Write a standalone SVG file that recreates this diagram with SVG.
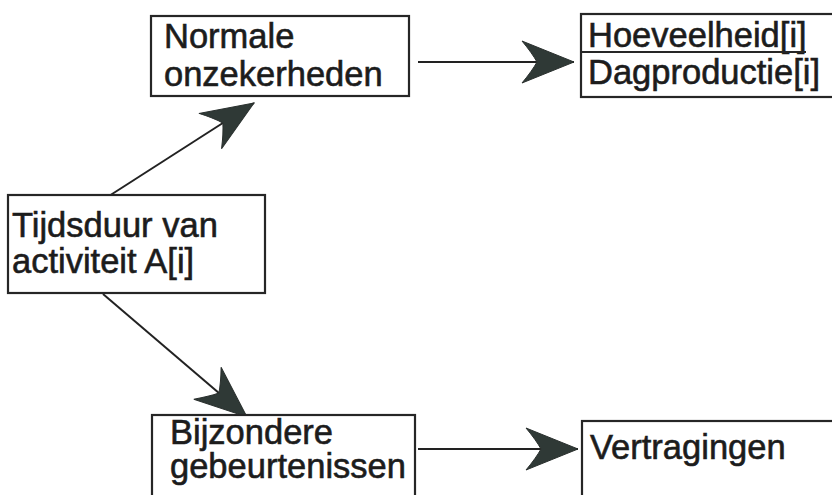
<svg xmlns="http://www.w3.org/2000/svg" width="832" height="495" viewBox="0 0 832 495">
  <style>
    .box { fill: #ffffff; stroke: #262626; stroke-width: 2.2; }
    .lbl { font-family: "Liberation Sans", Arial, sans-serif; font-size: 34.5px; fill: #1c1c1c; stroke: #1c1c1c; stroke-width: 0.6; }
    .edge { fill: none; stroke: #222222; stroke-width: 2; marker-end: url(#head); }
  </style>
  <defs>
    <marker id="head" markerUnits="userSpaceOnUse" viewBox="-56 -24 60 48" markerWidth="60" markerHeight="48" refX="0" refY="0" orient="auto">
      <path d="M0,0 L-52,-21 Q-42,-9 -37,0 Q-42,9 -52,21 Z" fill="#2f3936" stroke="#2a302e" stroke-width="1"/>
    </marker>
  </defs>
  <rect width="832" height="495" fill="#ffffff"/>

  <g id="connectors">
    <line class="edge" x1="109" y1="196" x2="254" y2="103"/>
    <line class="edge" x1="103" y1="294" x2="247" y2="417"/>
    <line class="edge" x1="418" y1="62" x2="574" y2="62"/>
    <line class="edge" x1="418" y1="449" x2="578" y2="449"/>
  </g>

  <g id="normale">
    <rect class="box" x="151" y="16" width="258" height="80"/>
    <text class="lbl" x="164" y="48">Normale</text>
    <text class="lbl" x="164" y="86">onzekerheden</text>
  </g>

  <g id="hoeveelheid">
    <rect class="box" x="581" y="14" width="270" height="83"/>
    <text class="lbl" x="588" y="47">Hoeveelheid[i]</text>
    <line x1="582" y1="52" x2="806" y2="52" stroke="#262626" stroke-width="2"/>
    <text class="lbl" x="588" y="84">Dagproductie[i]</text>
  </g>

  <g id="tijdsduur">
    <rect class="box" x="8" y="195" width="257" height="98"/>
    <text class="lbl" x="12" y="237">Tijdsduur van</text>
    <text class="lbl" x="12" y="273">activiteit A[i]</text>
  </g>

  <g id="bijzondere">
    <rect class="box" x="152" y="415" width="263" height="100"/>
    <text class="lbl" x="170" y="444">Bijzondere</text>
    <text class="lbl" x="170" y="478">gebeurtenissen</text>
  </g>

  <g id="vertragingen">
    <rect class="box" x="582" y="421" width="270" height="100"/>
    <text class="lbl" x="590" y="459">Vertragingen</text>
  </g>
</svg>
